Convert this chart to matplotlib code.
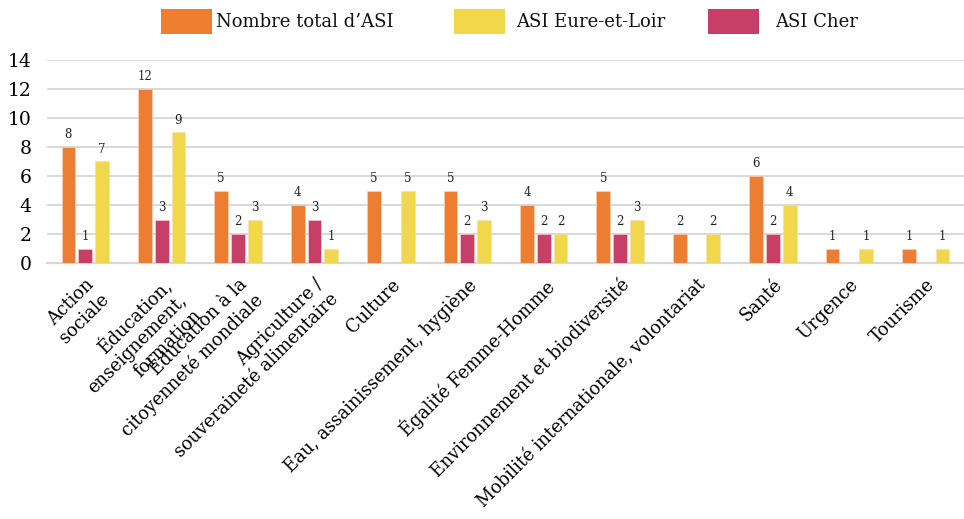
import numpy as np
import matplotlib
matplotlib.use("Agg")
import matplotlib.pyplot as plt
from matplotlib.patches import Rectangle
import matplotlib.transforms as mtransforms

categories = [
    "Action\nsociale",
    "Éducation,\nenseignement,\nformation",
    "Éducation à la\ncitoyenneté mondiale",
    "Agriculture /\nsouveraineté alimentaire",
    "Culture",
    "Eau, assainissement, hygiène",
    "Égalité Femme-Homme",
    "Environnement et biodiversité",
    "Mobilité internationale, volontariat",
    "Santé",
    "Urgence",
    "Tourisme",
]
total = [8, 12, 5, 4, 5, 5, 4, 5, 2, 6, 1, 1]
cher = [1, 3, 2, 3, 0, 2, 2, 2, 0, 2, 0, 0]
eure_et_loir = [7, 9, 3, 1, 5, 3, 2, 3, 2, 4, 1, 1]
series_names = ["Nombre total d\u2019ASI", "ASI Eure-et-Loir", "ASI Cher"]
yticks = [0, 2, 4, 6, 8, 10, 12, 14]

c_orange = "#ED7D31"
c_yellow = "#F0D84A"
c_crimson = "#C73E66"

plt.rcParams['font.family'] = ['DejaVu Serif']

fig = plt.figure(figsize=(9.64, 5.19), dpi=100)
W, H = 964, 519
ax = fig.add_axes([47 / W, 1 - 263 / H, (964 - 47) / W, (263 - 60) / H])

x = np.arange(len(categories))
bw = 0.18
off = 0.22
series = [(total, c_orange, -off), (cher, c_crimson, 0.0), (eure_et_loir, c_yellow, off)]
for vals, col, o in series:
    v = np.array(vals, dtype=float)
    v[v == 0] = np.nan
    ax.bar(x + o, v, width=bw, color=col, edgecolor="#f6d9c8", linewidth=0.4, zorder=3)
    for xi, vi in zip(x + o, vals):
        if vi:
            ax.annotate(str(vi), (xi, vi), xytext=(0, 4), textcoords="offset points",
                        ha="center", va="bottom", fontsize=8.5, color="#222222")

ax.set_xlim(-0.5, len(categories) - 0.5)
ax.set_ylim(0, 14)
ax.set_yticks(yticks)
ax.yaxis.grid(True, color="#d6d6d6", linewidth=1.3, zorder=0)
ax.set_axisbelow(True)
for s in ["top", "right", "left"]:
    ax.spines[s].set_visible(False)
ax.spines["bottom"].set_color("#d6d6d6")
ax.spines["bottom"].set_linewidth(1.6)
ax.tick_params(axis="both", length=0)
ax.tick_params(axis="y", labelsize=13.5, pad=11)
ax.set_xticks(x)
ax.set_xticklabels(categories, rotation=45, ha="right", va="top",
                   rotation_mode="anchor", fontsize=12.8)
ax.tick_params(axis="x", pad=4)
shift = mtransforms.ScaledTranslation(0 / 100, -7 / 100, fig.dpi_scale_trans)
for lab in ax.get_xticklabels():
    lab.set_multialignment("right")
    lab.set_transform(lab.get_transform() + shift)

# legend drawn manually (figure pixel layout)
leg_cols = [c_orange, c_yellow, c_crimson]
patch_x = [161, 454, 708]
text_x = [216, 516, 775]
for name, col, px, tx in zip(series_names, leg_cols, patch_x, text_x):
    fig.patches.append(Rectangle((px / W, 1 - 34 / H), 51 / W, 25 / H,
                                 transform=fig.transFigure, facecolor=col,
                                 edgecolor="none"))
    fig.text(tx / W, 1 - 22 / H, name, ha="left", va="center", fontsize=13,
             color="#111111")

fig.savefig("out.png", dpi=100)
